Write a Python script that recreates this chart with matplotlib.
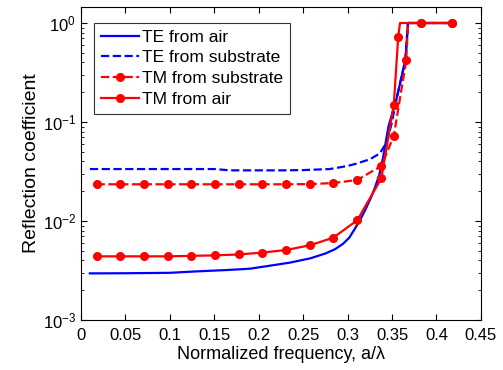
import matplotlib
matplotlib.use('Agg')
import matplotlib.pyplot as plt
import numpy as np

plt.rcParams['font.family'] = ['Liberation Sans', 'DejaVu Sans']

# TE from air (blue solid)
te_air_x = [0.01, 0.05, 0.10, 0.13, 0.164, 0.19, 0.209, 0.235, 0.258, 0.275, 0.286, 0.295, 0.302,
            0.308, 0.314, 0.320, 0.326, 0.331, 0.336, 0.340, 0.346, 0.355, 0.365, 0.368, 0.38, 0.40, 0.418]
te_air_y = [0.00296, 0.00297, 0.0030, 0.0031, 0.0032, 0.0033, 0.0035, 0.0038, 0.0042, 0.0047, 0.0052, 0.0059, 0.0068,
            0.0083, 0.0102, 0.013, 0.017, 0.022, 0.030, 0.044, 0.09, 0.17, 0.42, 1.0, 1.0, 1.0, 1.0]

# TE from substrate (blue dashed)
te_sub_x = [0.01, 0.05, 0.10, 0.15, 0.168, 0.20, 0.225, 0.25, 0.28, 0.30, 0.31, 0.325, 0.336,
            0.344, 0.350, 0.355, 0.365, 0.368, 0.38, 0.40, 0.418]
te_sub_y = [0.0335, 0.0335, 0.0335, 0.0335, 0.0325, 0.0325, 0.0325, 0.0327, 0.0335, 0.036, 0.038, 0.042, 0.048,
            0.062, 0.10, 0.17, 0.42, 1.0, 1.0, 1.0, 1.0]

# TM from substrate (red dashed, markers)
tm_sub_x = [0.0176, 0.0443, 0.071, 0.0977, 0.124, 0.151, 0.178, 0.204, 0.231, 0.258, 0.284,
            0.311, 0.338, 0.352, 0.366, 0.383, 0.418]
tm_sub_y = [0.0235, 0.0235, 0.0235, 0.0235, 0.0235, 0.0235, 0.0235, 0.0235, 0.0235, 0.0236, 0.0242,
            0.026, 0.036, 0.072, 0.42, 1.0, 1.0]

# TM from air (red solid, markers)
tm_air_x = [0.0176, 0.0443, 0.071, 0.0977, 0.124, 0.151, 0.178, 0.204, 0.231, 0.258, 0.284,
            0.311, 0.338, 0.352, 0.357, 0.383, 0.418]
tm_air_y = [0.0044, 0.0044, 0.0044, 0.0044, 0.00445, 0.0045, 0.0046, 0.0048, 0.0051, 0.0057, 0.0068,
            0.0102, 0.027, 0.149, 0.73, 1.0, 1.0]

fig = plt.figure(figsize=(5.03, 3.70), dpi=100)
ax = fig.add_axes([0.161, 0.135, 0.795, 0.846])

ax.semilogy(te_air_x, te_air_y, '-', color='#0000ff', lw=1.6, label='TE from air')
ax.semilogy(te_sub_x, te_sub_y, '--', color='#0000ff', lw=1.6, label='TE from substrate')
# vertical jump of the TM curves at the band edge (corner point, no marker)
sub_x = tm_sub_x[:15] + [0.368] + tm_sub_x[15:]
sub_y = tm_sub_y[:15] + [1.0] + tm_sub_y[15:]
air_x = tm_air_x[:15] + [0.359] + tm_air_x[15:]
air_y = tm_air_y[:15] + [1.0] + tm_air_y[15:]
ax.semilogy(sub_x, sub_y, '--', color='#ff0000', lw=1.6, marker='o', ms=5.5,
            markevery=[i for i in range(len(sub_x)) if i != 15], label='TM from substrate')
ax.semilogy(air_x, air_y, '-', color='#ff0000', lw=1.6, marker='o', ms=5.5,
            markevery=[i for i in range(len(air_x)) if i != 15], label='TM from air')

ax.set_xlim(0, 0.45)
ax.set_ylim(1e-3, 1.45)
ax.set_xticks(np.arange(0, 0.451, 0.05))
ax.set_xticklabels(['0', '0.05', '0.1', '0.15', '0.2', '0.25', '0.3', '0.35', '0.4', '0.45'])
ax.tick_params(which='both', direction='in', top=True, right=True, labelsize=12)
ax.tick_params(axis='x', pad=6)
ax.tick_params(which='major', length=4)
ax.tick_params(which='minor', length=2)
for s in ax.spines.values():
    s.set_linewidth(0.8)

ax.set_xlabel('Normalized frequency, a/λ', fontsize=13, labelpad=2)
ax.set_ylabel('Reflection coefficient', fontsize=14, labelpad=2)

leg = ax.legend(loc='upper left', bbox_to_anchor=(0.033, 0.95), fontsize=12.5,
                fancybox=False, edgecolor='black', handlelength=2.2,
                handletextpad=0.15, borderpad=0.4, labelspacing=0.32, borderaxespad=0)
leg.get_frame().set_linewidth(0.8)

fig.savefig('out.png', dpi=100)
